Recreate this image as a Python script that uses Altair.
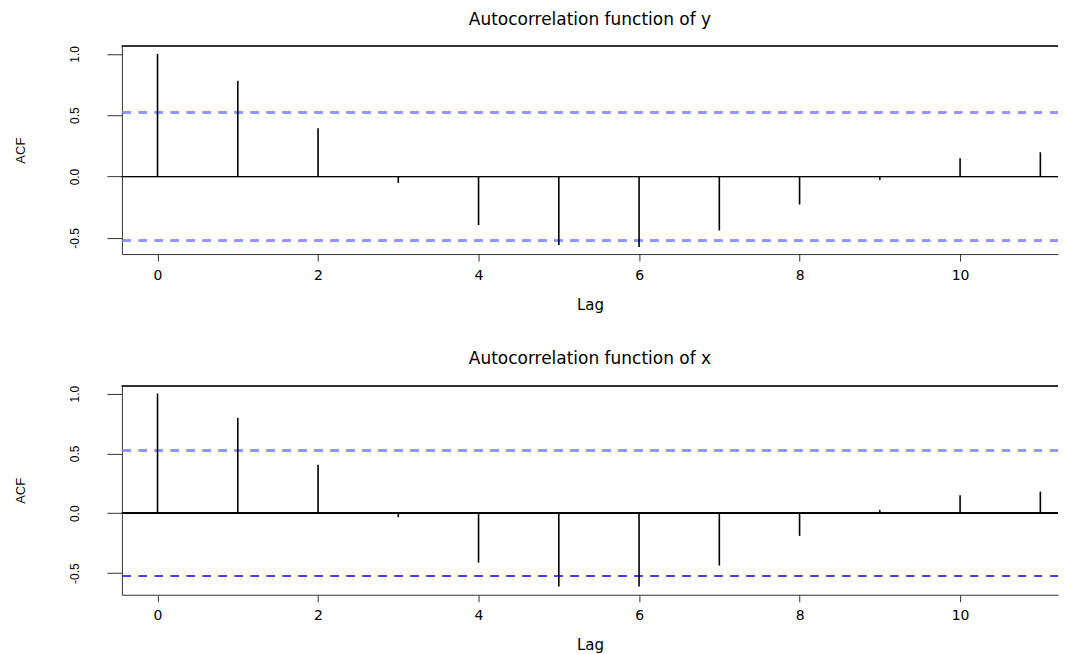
import altair as alt
import pandas as pd

lags = list(range(12))
acf_y = [1.0, 0.78, 0.393, -0.052, -0.396, -0.559, -0.575, -0.44, -0.228, -0.028, 0.149, 0.198]
acf_x = [1.0, 0.797, 0.405, -0.033, -0.412, -0.613, -0.613, -0.437, -0.189, 0.028, 0.15, 0.181]
ci_upper = 0.524
ci_lower = -0.524
x_ticks = [0, 2, 4, 6, 8, 10]
y_ticks = [-0.5, 0.0, 0.5, 1.0]

X_DOMAIN = [-0.444, 11.22]
PLOT_W = 937


def panel(values, title, ydom, height, lower_color, lower_width):
    df = pd.DataFrame({"lag": lags, "acf": values, "base": [0.0] * len(lags)})
    xs = alt.Scale(domain=X_DOMAIN, nice=False, zero=False)
    ys = alt.Scale(domain=ydom, nice=False, zero=False)
    x_axis = alt.Axis(
        values=x_ticks, title="Lag", orient="bottom", grid=False,
        tickSize=7, labelPadding=7, labelFont="DejaVu Sans", labelFontSize=14,
        labelColor="black", titleFont="DejaVu Sans", titleFontSize=15,
        titleFontWeight="normal", titleColor="black", titlePadding=15,
        domainColor="#333333", tickColor="#333333", labelFlush=False,
    )
    y_axis = alt.Axis(
        values=y_ticks, title="ACF", grid=False, tickSize=15,
        labelAngle=270, labelAlign="center", labelBaseline="bottom",
        labelPadding=25, labelFont="Liberation Sans", labelFontSize=12,
        labelColor="black",
        labelExpr="datum.value < 0 ? '-' + format(-datum.value, '.1f') : format(datum.value, '.1f')",
        titleFont="Liberation Sans", titleFontSize=13, titleFontWeight="normal",
        titleColor="black", titlePadding=41,
        domainColor="#333333", tickColor="#333333", labelFlush=False,
    )
    base = alt.Chart(df)
    stems = base.mark_rule(color="black", strokeWidth=1.6).encode(
        x=alt.X("lag:Q", scale=xs, axis=x_axis),
        y=alt.Y("acf:Q", scale=ys, axis=y_axis),
        y2="base:Q",
    )
    zero = base.mark_rule(color="black", strokeWidth=1).encode(y=alt.datum(0))
    upper = base.mark_rule(color="#9494ff", strokeWidth=2, strokeDash=[8, 8]).encode(
        y=alt.datum(ci_upper)
    )
    lower = base.mark_rule(color=lower_color, strokeWidth=lower_width, strokeDash=[8, 8]).encode(
        y=alt.datum(ci_lower)
    )
    top_border = base.mark_rule(color="#333333", strokeWidth=1).encode(y=alt.value(0))
    return alt.layer(upper, lower, zero, stems, top_border).properties(
        width=PLOT_W,
        height=height,
        title=alt.TitleParams(
            title, font="DejaVu Sans", fontSize=17, fontWeight="normal",
            anchor="middle", color="black", offset=17,
        ),
    )


top = panel(acf_y, "Autocorrelation function of y", [-0.632, 1.062], 208, "#9494ff", 2)
bottom = panel(acf_x, "Autocorrelation function of x", [-0.681, 1.064], 209, "#4444ee", 1)

chart = (
    alt.vconcat(top, bottom, spacing=38)
    .properties(padding={"left": 6, "top": 2, "right": 0, "bottom": 0})
    .configure_view(strokeWidth=0)
)

chart.save("out.html", embed_options={"renderer": "svg", "actions": False})
